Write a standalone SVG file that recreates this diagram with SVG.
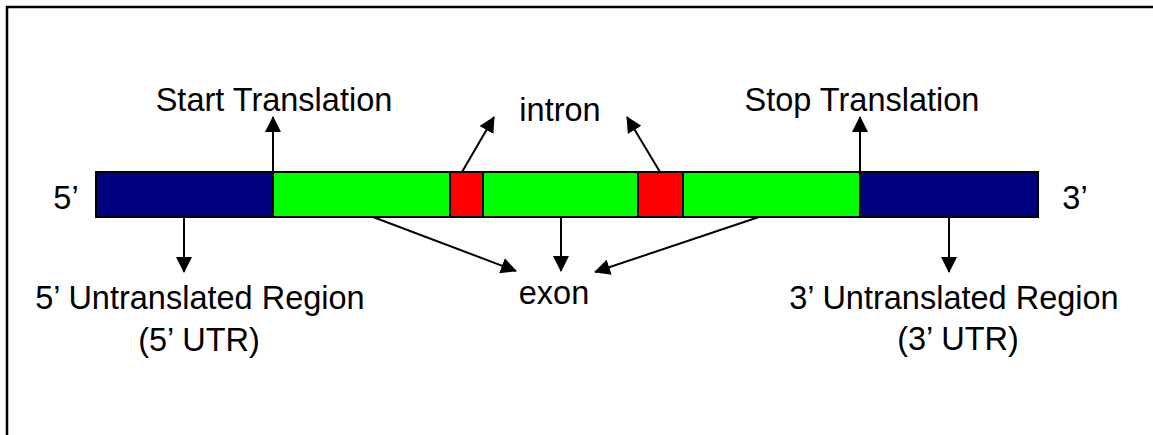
<svg xmlns="http://www.w3.org/2000/svg" width="1153" height="435" viewBox="0 0 1153 435">
<defs>
<style>
text{font-family:"Liberation Sans",Arial,sans-serif;font-size:32.5px;fill:#000;text-anchor:middle}
.seg{stroke:#000;stroke-width:2}
.utr{fill:#000080}
.exon{fill:#00ff00}
.intron{fill:#ff0000}
.conn{stroke:#000;stroke-width:2;fill:none;marker-end:url(#ah)}
</style>
<marker id="ah" markerUnits="userSpaceOnUse" markerWidth="16" markerHeight="16" viewBox="0 0 16 16" refX="15" refY="8" orient="auto">
<path d="M0,0 L16,8 L0,16 Z" fill="#000"/>
</marker>
</defs>
<rect width="1153" height="435" fill="#fff"/>
<path d="M7,435 V7 H1153" fill="none" stroke="#000" stroke-width="2.5"/>
<g id="bar">
<rect id="utr5" class="seg utr" x="96" y="172" width="177" height="45"/>
<rect id="exon1" class="seg exon" x="273" y="172" width="177" height="45"/>
<rect id="intron1" class="seg intron" x="450" y="172" width="33" height="45"/>
<rect id="exon2" class="seg exon" x="483" y="172" width="155" height="45"/>
<rect id="intron2" class="seg intron" x="638" y="172" width="45" height="45"/>
<rect id="exon3" class="seg exon" x="683" y="172" width="177" height="45"/>
<rect id="utr3" class="seg utr" x="860" y="172" width="178" height="45"/>
</g>
<g id="connectors">
<line class="conn" x1="273" y1="172" x2="273" y2="117"/>
<line class="conn" x1="860" y1="172" x2="860" y2="117"/>
<line class="conn" x1="462" y1="172" x2="494" y2="117"/>
<line class="conn" x1="660" y1="172" x2="627" y2="117"/>
<line class="conn" x1="184" y1="217" x2="184" y2="272"/>
<line class="conn" x1="949" y1="217" x2="949" y2="272"/>
<line class="conn" x1="561" y1="217" x2="561" y2="271"/>
<line class="conn" x1="373" y1="217" x2="516" y2="271"/>
<line class="conn" x1="759" y1="217" x2="595" y2="272"/>
</g>
<g id="label-start"><text x="274" y="111">Start Translation</text></g>
<g id="label-intron"><text x="560" y="121">intron</text></g>
<g id="label-stop"><text x="862" y="111">Stop Translation</text></g>
<g id="label-5"><text x="66" y="209">5’</text></g>
<g id="label-3"><text x="1075" y="209">3’</text></g>
<g id="label-exon"><text x="554" y="304">exon</text></g>
<g id="label-utr5"><text x="200" y="309">5’ Untranslated Region</text><text x="199" y="351">(5’ UTR)</text></g>
<g id="label-utr3"><text x="954" y="309">3’ Untranslated Region</text><text x="958" y="350">(3’ UTR)</text></g>
</svg>
